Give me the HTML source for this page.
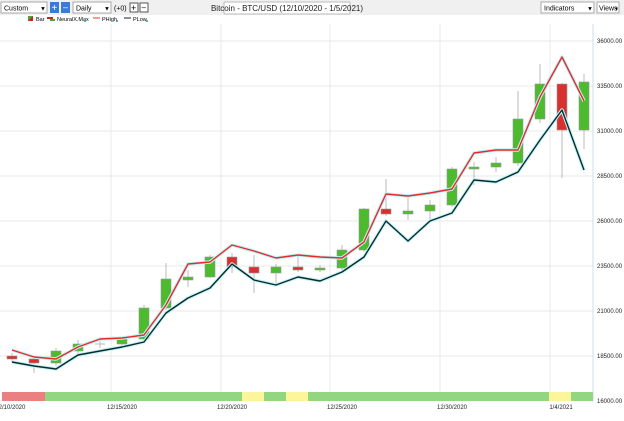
<!DOCTYPE html><html><head><style>
body{margin:0;width:624px;height:416px;overflow:hidden;background:#fff;font-family:"Liberation Sans",sans-serif}
</style></head><body>
<svg width="624" height="416" xmlns="http://www.w3.org/2000/svg" font-family="Liberation Sans, sans-serif">
<rect x="0" y="0" width="624" height="15" fill="#f0f0f0"/>
<rect x="1" y="2" width="46" height="11" fill="#fff" stroke="#aaa"/><text x="4" y="10.5" font-size="7">Custom</text><text x="40" y="10.5" font-size="6">▼</text>
<rect x="50" y="2" width="9" height="11" fill="#3a7ad8"/><text x="51.5" y="11" font-size="10" fill="#fff">+</text>
<rect x="61" y="2" width="9" height="11" fill="#3a7ad8"/><text x="63" y="10" font-size="9" fill="#fff">–</text>
<rect x="73" y="2" width="38" height="11" fill="#fff" stroke="#aaa"/><text x="76" y="10.5" font-size="7">Daily</text><text x="104" y="10.5" font-size="6">▼</text>
<text x="114" y="10.5" font-size="7">(+0)</text>
<rect x="130" y="3" width="8" height="9" fill="#fff" stroke="#555"/><text x="131" y="11" font-size="9">+</text>
<rect x="140" y="3" width="8" height="9" fill="#fff" stroke="#555"/><text x="141.5" y="10" font-size="8">–</text>
<rect x="224" y="2" width="126" height="12" fill="#fff" stroke="#bbb" rx="1"/><text x="287" y="11" font-size="8" text-anchor="middle" fill="#222">Bitcoin - BTC/USD (12/10/2020 - 1/5/2021)</text>
<rect x="541" y="2" width="53" height="11" fill="#fff" stroke="#aaa"/><text x="544" y="10.5" font-size="7">Indicators</text><text x="587" y="10.5" font-size="6">▼</text>
<rect x="597" y="2" width="22" height="11" fill="#fff" stroke="#aaa"/><text x="599" y="10.5" font-size="7">Views</text><text x="614" y="10.5" font-size="5">▼</text>
<rect x="28" y="16" width="5" height="5" fill="#44aa33"/><path d="M28 21 L33 16 L33 21Z" fill="#cc2222"/><text x="36" y="21" font-size="5.5">Bar</text>
<rect x="47" y="17" width="6" height="2" fill="#cc2222"/><rect x="50" y="19" width="5" height="2" fill="#44aa33"/><text x="57" y="21" font-size="5.5">NeuralX.Max</text><circle cx="85" cy="21" r="1" fill="#2a8"/>
<line x1="93" y1="18" x2="100" y2="18" stroke="#e33"/><text x="102" y="21" font-size="5.5">PHigh</text><circle cx="117" cy="21" r="1" fill="#2a8"/>
<line x1="124" y1="18" x2="131" y2="18" stroke="#123"/><text x="133" y="21" font-size="5.5">PLow</text><circle cx="147" cy="21" r="1" fill="#2a8"/>
<g stroke="#e8e8e8" stroke-width="1">
<line x1="0" y1="41" x2="593" y2="41"/><line x1="0" y1="86" x2="593" y2="86"/><line x1="0" y1="131" x2="593" y2="131"/><line x1="0" y1="176" x2="593" y2="176"/><line x1="0" y1="221" x2="593" y2="221"/><line x1="0" y1="266" x2="593" y2="266"/><line x1="0" y1="311" x2="593" y2="311"/><line x1="0" y1="356" x2="593" y2="356"/>
<line x1="111" y1="24" x2="111" y2="402"/><line x1="221" y1="24" x2="221" y2="402"/><line x1="330" y1="24" x2="330" y2="402"/><line x1="440" y1="24" x2="440" y2="402"/><line x1="550" y1="24" x2="550" y2="402"/>
</g>
<line x1="593" y1="24" x2="593" y2="402" stroke="#cde"/>
<g font-size="6" fill="#222">
<text x="597" y="43">36000.00</text><text x="597" y="88">33500.00</text><text x="597" y="133">31000.00</text><text x="597" y="178">28500.00</text><text x="597" y="223">26000.00</text><text x="597" y="268">23500.00</text><text x="597" y="313">21000.00</text><text x="597" y="358">18500.00</text><text x="597" y="403">16000.00</text>
<text x="12" y="409" text-anchor="middle">2/10/2020</text><text x="122" y="409" text-anchor="middle">12/15/2020</text><text x="232" y="409" text-anchor="middle">12/20/2020</text><text x="342" y="409" text-anchor="middle">12/25/2020</text><text x="452" y="409" text-anchor="middle">12/30/2020</text><text x="561" y="409" text-anchor="middle">1/4/2021</text>
</g>
<rect x="2" y="392" width="43" height="9" fill="#ea8080"/><rect x="45" y="392" width="197" height="9" fill="#92d682"/><rect x="242" y="392" width="22" height="9" fill="#fdf59a"/><rect x="264" y="392" width="22" height="9" fill="#92d682"/><rect x="286" y="392" width="22" height="9" fill="#fdf59a"/><rect x="308" y="392" width="241" height="9" fill="#92d682"/><rect x="549" y="392" width="22" height="9" fill="#fdf59a"/><rect x="571" y="392" width="22" height="9" fill="#92d682"/>
<g stroke="#bbb" stroke-width="1">
<line x1="12" y1="353" x2="12" y2="362"/><line x1="34" y1="356" x2="34" y2="373"/><line x1="56" y1="348" x2="56" y2="366"/><line x1="78" y1="340" x2="78" y2="353"/><line x1="100" y1="340" x2="100" y2="348"/><line x1="122" y1="337" x2="122" y2="346"/><line x1="144" y1="305" x2="144" y2="341"/><line x1="166" y1="263" x2="166" y2="310"/><line x1="188" y1="270" x2="188" y2="287"/><line x1="210" y1="255" x2="210" y2="278"/><line x1="232" y1="253" x2="232" y2="273"/><line x1="254" y1="255" x2="254" y2="293"/><line x1="276" y1="264" x2="276" y2="283"/><line x1="298" y1="255" x2="298" y2="272"/><line x1="320" y1="265" x2="320" y2="272"/><line x1="342" y1="245" x2="342" y2="270"/><line x1="364" y1="208" x2="364" y2="252"/><line x1="386" y1="179" x2="386" y2="216"/><line x1="408" y1="196" x2="408" y2="220"/><line x1="430" y1="200" x2="430" y2="220"/><line x1="452" y1="167" x2="452" y2="207"/><line x1="474" y1="162" x2="474" y2="185"/><line x1="496" y1="157" x2="496" y2="172"/><line x1="518" y1="91" x2="518" y2="166"/><line x1="540" y1="64" x2="540" y2="123"/><line x1="562" y1="83" x2="562" y2="178"/><line x1="584" y1="74" x2="584" y2="149"/>
<line x1="95" y1="344" x2="105" y2="344"/>
</g>
<g stroke="#999" stroke-width="0.6">
<rect x="7" y="356" width="10" height="3" fill="#d83030"/><rect x="29" y="359" width="10" height="4" fill="#d83030"/><rect x="51" y="351" width="10" height="12" fill="#4cbb2e"/><rect x="73" y="344" width="10" height="7" fill="#4cbb2e"/><rect x="117" y="339" width="10" height="5" fill="#4cbb2e"/><rect x="139" y="308" width="10" height="31" fill="#4cbb2e"/><rect x="161" y="279" width="10" height="29" fill="#4cbb2e"/><rect x="183" y="277" width="10" height="3" fill="#4cbb2e"/><rect x="205" y="257" width="10" height="20" fill="#4cbb2e"/><rect x="227" y="257" width="10" height="10" fill="#d83030"/><rect x="249" y="267" width="10" height="6" fill="#d83030"/><rect x="271" y="267" width="10" height="6" fill="#4cbb2e"/><rect x="293" y="267" width="10" height="3" fill="#d83030"/><rect x="315" y="268" width="10" height="2" fill="#4cbb2e"/><rect x="337" y="250" width="10" height="18" fill="#4cbb2e"/><rect x="359" y="209" width="10" height="41" fill="#4cbb2e"/><rect x="381" y="209" width="10" height="5" fill="#d83030"/><rect x="403" y="211" width="10" height="3" fill="#4cbb2e"/><rect x="425" y="205" width="10" height="6" fill="#4cbb2e"/><rect x="447" y="169" width="10" height="36" fill="#4cbb2e"/><rect x="469" y="167" width="10" height="2" fill="#4cbb2e"/><rect x="491" y="163" width="10" height="4" fill="#4cbb2e"/><rect x="513" y="119" width="10" height="44" fill="#4cbb2e"/><rect x="535" y="84" width="10" height="35" fill="#4cbb2e"/><rect x="557" y="84" width="10" height="46" fill="#d83030"/><rect x="579" y="82" width="10" height="48" fill="#4cbb2e"/>
</g>
<g fill="none" stroke-linejoin="round">
<polyline stroke="#bff4f8" stroke-width="3.5" points="12,350 34,357 56,359 78,347 100,339 122,338 144,335 166,305 188,264 210,262 232,245 254,251 276,258 298,255 320,257 342,258 364,242 386,194 408,196 430,193 452,189 474,153 496,150 518,150 540,97 562,57 584,101"/>
<polyline stroke="#bff4f8" stroke-width="3.5" points="12,362 34,366 56,369 78,355 100,351 122,347 144,342 166,313 188,298 210,288 232,264 254,280 276,285 298,277 320,281 342,272 364,257 386,221 408,241 430,221 452,213 474,180 496,182 518,172 540,140 562,110 584,170"/>
<polyline stroke="#e82a2a" stroke-width="1.4" points="12,350 34,357 56,359 78,347 100,339 122,338 144,335 166,305 188,264 210,262 232,245 254,251 276,258 298,255 320,257 342,258 364,242 386,194 408,196 430,193 452,189 474,153 496,150 518,150 540,97 562,57 584,101"/>
<polyline stroke="#0d2a2a" stroke-width="1.4" points="12,362 34,366 56,369 78,355 100,351 122,347 144,342 166,313 188,298 210,288 232,264 254,280 276,285 298,277 320,281 342,272 364,257 386,221 408,241 430,221 452,213 474,180 496,182 518,172 540,140 562,110 584,170"/>
</g>
</svg>
</body></html>
